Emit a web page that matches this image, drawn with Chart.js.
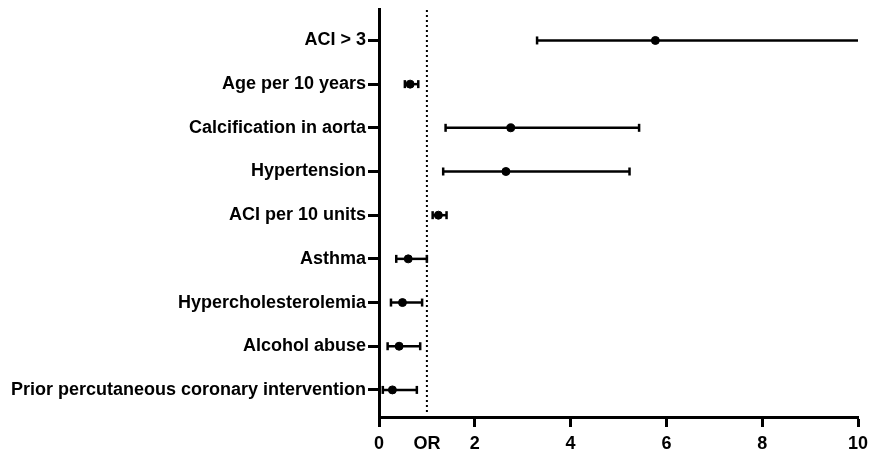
<!DOCTYPE html>
<html>
<head>
<meta charset="utf-8">
<script src="https://cdn.jsdelivr.net/npm/chart.js@4.4.1/dist/chart.umd.min.js"></script>
<style>
  html, body { margin: 0; padding: 0; background: #fff; }
  #wrap { width: 869px; height: 454px; }
</style>
</head>
<body>
<div id="wrap"><canvas id="forest"></canvas></div>
<script>
// values
const categories = ['ACI > 3', 'Age per 10 years', 'Calcification in aorta', 'Hypertension',
  'ACI per 10 units', 'Asthma', 'Hypercholesterolemia', 'Alcohol abuse',
  'Prior percutaneous coronary intervention'];
const oddsRatio = [5.77, 0.65, 2.75, 2.65, 1.24, 0.61, 0.49, 0.42, 0.28];
const ciLower   = [3.30, 0.54, 1.39, 1.34, 1.12, 0.36, 0.25, 0.18, 0.08];
const ciUpper   = [10.6, 0.82, 5.43, 5.23, 1.41, 1.00, 0.90, 0.86, 0.79];
const xTicks = [0, 1, 2, 4, 6, 8, 10];
const xTickLabels = ['0', 'OR', '2', '4', '6', '8', '10'];
const refLine = 1;

const font = { family: 'Liberation Sans, Arial, sans-serif', size: 18, weight: 'bold' };

// one line per row for the CI, with vertical caps as point style
const whiskers = categories.map((c, i) => ({
  type: 'line',
  data: [{ x: ciLower[i], y: i }, { x: ciUpper[i], y: i }],
  borderColor: '#000',
  borderWidth: 2.5,
  pointStyle: 'line',
  pointRotation: 90,
  pointRadius: 4,
  pointBorderWidth: 2.5,
  pointBorderColor: '#000',
  clip: 0
}));

const dottedLine = {
  id: 'dottedLine',
  beforeDatasetsDraw(chart) {
    const { ctx, chartArea, scales } = chart;
    const x = scales.x.getPixelForValue(refLine);
    ctx.save();
    ctx.strokeStyle = '#000';
    ctx.lineWidth = 2;
    ctx.setLineDash([2, 3]);
    ctx.beginPath();
    ctx.moveTo(x, chartArea.top + 1);
    ctx.lineTo(x, chartArea.bottom - 3);
    ctx.stroke();
    ctx.restore();
  }
};

new Chart(document.getElementById('forest'), {
  type: 'scatter',
  data: {
    datasets: [
      ...whiskers,
      {
        type: 'scatter',
        data: oddsRatio.map((v, i) => ({ x: v, y: i })),
        backgroundColor: '#000',
        borderColor: '#000',
        pointRadius: 4
      }
    ]
  },
  options: {
    responsive: true,
    maintainAspectRatio: false,
    animation: false,
    layout: { padding: 0 },
    plugins: { legend: { display: false }, tooltip: { enabled: false } },
    scales: {
      x: {
        type: 'linear',
        min: 0,
        max: 10,
        afterBuildTicks: s => { s.ticks = xTicks.map(v => ({ value: v })); },
        afterFit: s => { s.height = 37; s.paddingLeft = 0; s.paddingRight = 11; },
        ticks: {
          autoSkip: false,
          maxRotation: 0,
          color: '#000',
          font: font,
          padding: 6,
          callback: v => xTickLabels[xTicks.indexOf(v)]
        },
        grid: {
          drawOnChartArea: false,
          tickLength: 10,
          tickWidth: 3,
          tickColor: c => (c.tick && c.tick.value === refLine) ? 'rgba(0,0,0,0)' : '#000'
        },
        border: { display: true, color: '#000', width: 3 }
      },
      y: {
        type: 'linear',
        reverse: true,
        min: -0.72,
        max: 8.62,
        afterBuildTicks: s => { s.ticks = categories.map((c, i) => ({ value: i })); },
        afterFit: s => { s.width = 379; s.paddingTop = 9; s.paddingBottom = 0; },
        ticks: {
          autoSkip: false,
          color: '#000',
          font: font,
          padding: 2,
          callback: v => categories[v]
        },
        grid: {
          drawOnChartArea: false,
          tickLength: 11,
          tickWidth: 3,
          tickColor: '#000'
        },
        border: { display: true, color: '#000', width: 3 }
      }
    }
  },
  plugins: [dottedLine]
});
</script>
</body>
</html>
